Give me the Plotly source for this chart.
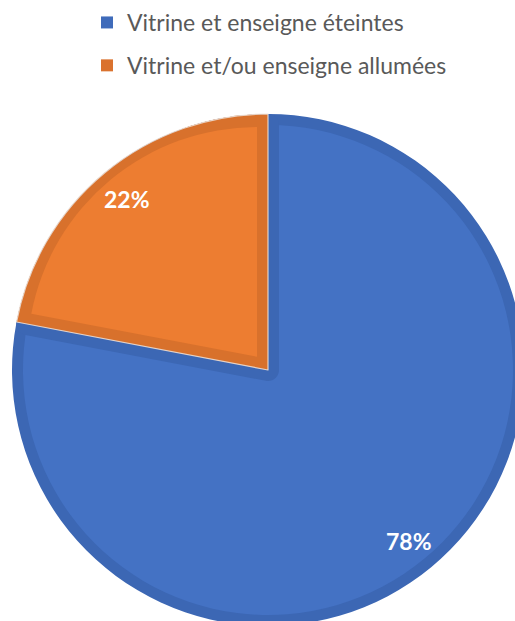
import math
import plotly.graph_objects as go

# ---- data ----
labels = ["Vitrine et enseigne éteintes", "Vitrine et/ou enseigne allumées"]
values = [78, 22]

# ---- style ----
light = ["#4472C4", "#ED7D31"]
dark = ["#3C67B4", "#D8712C"]
legend_colors = ["#3F6BBA", "#DA722E"]
CLEAR = "rgba(0,0,0,0)"
SEP = "rgba(240,228,218,0.85)"

W, H = 530, 640          # figure size (window shows 515x621, pie is cropped like the reference)
CX, CY = 268, 370        # pie centre in px
R = 256                  # outer radius px
B = 11                   # inner border thickness px


def domain(size_px):
    return dict(x=[(CX - size_px / 2) / W, (CX + size_px / 2) / W],
                y=[(H - CY - size_px / 2) / H, (H - CY + size_px / 2) / H])


total = sum(values)
frac = [v / total for v in values]
half_small = math.pi * frac[1]                 # half angle of small slice
pull_px = B / math.sin(half_small)
r5 = R - (B - 2) - pull_px
q = pull_px / r5

common = dict(labels=labels, values=values, sort=False, direction="clockwise",
              rotation=0, textinfo="none", showlegend=False, hoverinfo="label+percent")

fig = go.Figure()

# legend entries (tiny pies hidden under the centre)
for i in range(len(labels)):
    fig.add_trace(go.Pie(labels=[labels[i]], values=[values[i]], sort=False,
                         marker=dict(colors=[legend_colors[i]]), textinfo="none",
                         legendgroup=f"g{i}", showlegend=True, hoverinfo="skip",
                         domain=domain(0.4)))

# T1: full dark pie (borders)
fig.add_trace(go.Pie(**common, marker=dict(colors=dark, line=dict(width=0)), domain=domain(2 * R)))
# T2: light blue, inset from the arc
fig.add_trace(go.Pie(**common, marker=dict(colors=[light[0], CLEAR], line=dict(width=0)),
                     domain=domain(2 * (R - B))))
# T3: dark-blue border along the shared edges (stroke of the small slice)
fig.add_trace(go.Pie(**common, marker=dict(colors=[CLEAR, CLEAR],
                                           line=dict(color=[CLEAR, dark[0]], width=[0, 2 * B])),
                     domain=domain(2 * (R - B))))
# T4: dark orange slice again with thin light separator
fig.add_trace(go.Pie(**common, marker=dict(colors=[CLEAR, dark[1]],
                                           line=dict(color=[CLEAR, SEP], width=[0, 1.2])),
                     domain=domain(2 * R)))
# T5: light orange, pulled so that it is inset on every side
fig.add_trace(go.Pie(**common, pull=[0, q], marker=dict(colors=[CLEAR, light[1]], line=dict(width=0)),
                     domain=domain(2 * r5 * (1 + q))))

# percentage labels on the slice bisectors
annotations = []
start = 0.0
for i, f in enumerate(frac):
    mid = (start + f / 2) * 2 * math.pi
    start += f
    rr = 0.865 * R
    px = CX + rr * math.sin(mid)
    py = CY - rr * math.cos(mid)
    annotations.append(dict(x=px / W, y=1 - py / H, xref="paper", yref="paper",
                            text=f"{values[i] / total * 100:.0f}%", showarrow=False,
                            xanchor="center", yanchor="middle",
                            font=dict(family="Lato", size=23, color="white", weight="bold")))

fig.update_layout(
    width=W, height=H,
    margin=dict(l=0, r=0, t=0, b=0),
    paper_bgcolor="white", plot_bgcolor="white",
    annotations=annotations,
    legend=dict(x=87 / W, y=1 - 1 / H, xanchor="left", yanchor="top",
                orientation="v", traceorder="grouped", tracegroupgap=10,
                font=dict(family="Lato", size=23, color="#595959"),
                bgcolor="rgba(0,0,0,0)"),
)

fig.write_html("out.html", config={"displayModeBar": False}, post_script=(
    "document.body.style.margin='0';document.body.style.overflow='hidden';"
    "document.documentElement.style.overflow='hidden';"))
